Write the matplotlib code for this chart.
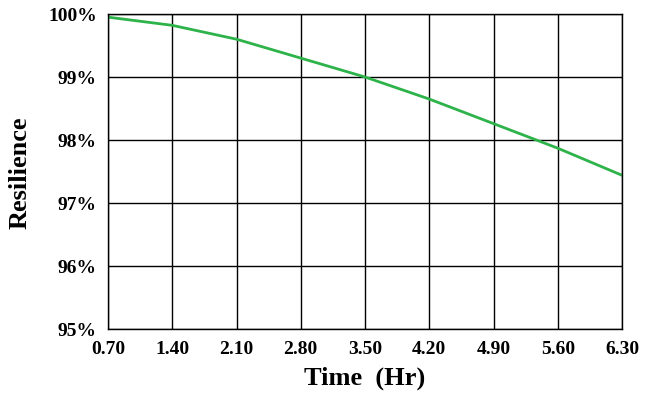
import matplotlib
matplotlib.use("Agg")
import matplotlib.pyplot as plt
from matplotlib.ticker import FuncFormatter

time_hr = [0.70, 1.40, 2.10, 2.80, 3.50, 4.20, 4.90, 5.60, 6.30]
resilience = [99.95, 99.82, 99.60, 99.30, 99.00, 98.65, 98.26, 97.87, 97.44]
x_ticks = [0.70, 1.40, 2.10, 2.80, 3.50, 4.20, 4.90, 5.60, 6.30]
y_ticks = [95, 96, 97, 98, 99, 100]

plt.rcParams["font.family"] = "Liberation Serif"
plt.rcParams["font.weight"] = "bold"

fig = plt.figure(figsize=(6.45, 4.14), dpi=100)
ax = fig.add_axes([108 / 645, 1 - 330 / 414, 514 / 645, 315 / 414])
ax.plot(time_hr, resilience, color="#2db34a", lw=2)

ax.set_xlim(0.70, 6.30)
ax.set_ylim(95, 100)
ax.set_xticks(x_ticks)
ax.set_yticks(y_ticks)
ax.xaxis.set_major_formatter(FuncFormatter(lambda v, _: f"{v:.2f}"))
ax.yaxis.set_major_formatter(FuncFormatter(lambda v, _: f"{v:.0f}%"))
ax.grid(True, color="black", lw=1)
for s in ax.spines.values():
    s.set_linewidth(1)
ax.tick_params(length=0, labelsize=14, pad=8)
for lbl in ax.get_xticklabels() + ax.get_yticklabels():
    lbl.set_fontweight("bold")
ax.set_xlabel("Time  (Hr)", fontsize=19, fontweight="bold", labelpad=6)
ax.set_ylabel("Resilience", fontsize=19, fontweight="bold", labelpad=12)

fig.savefig("out.png", dpi=100)
